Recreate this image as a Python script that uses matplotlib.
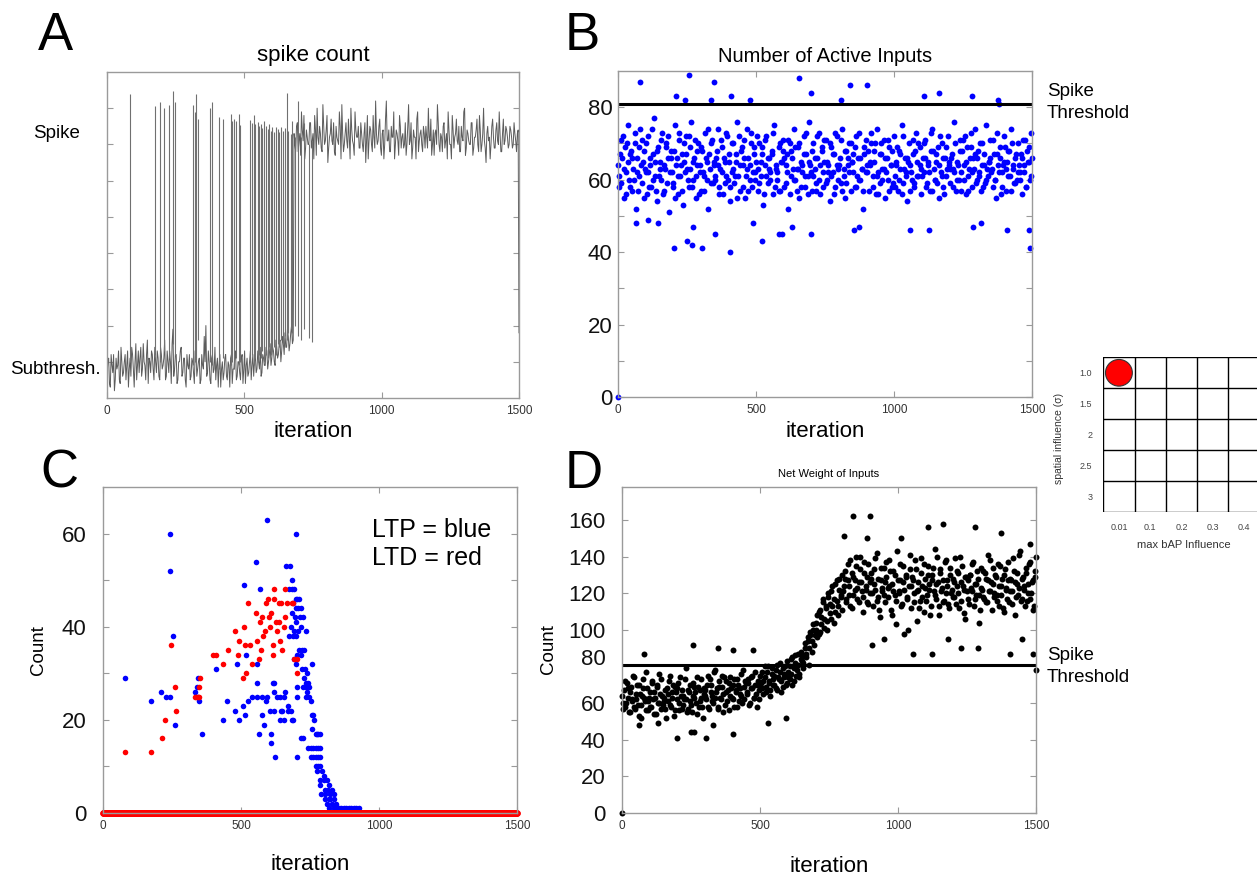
import matplotlib
matplotlib.use('Agg')
import matplotlib.pyplot as plt
import matplotlib.transforms as mtransforms
import numpy as np
from matplotlib.patches import Circle

plt.rcParams['font.family'] = ['Liberation Sans', 'DejaVu Sans']

# ---------------- DATA ----------------
# Panel A: spike count trace, two interleaved samplings (every 6 iterations, offset by 3)
a_vals = [0.6,1.1,0.3,0.9,1.2,0.5,0.8,1.3,0.4,1.0,
          0.7,1.2,0.9,0.3,1.1,1.4,0.8,1.0,0.5,1.3,
          1.1,0.6,1.5,0.9,1.2,0.4,1.0,1.3,0.8,1.4,
          0.7,1.1,0.5,1.2,0.9,1.6,0.6,1.0,1.3,0.4,
          1.9,0.8,1.2,0.5,1.0,1.4,0.7,1.1,0.3,0.9,
          1.2,0.6,1.0,0.4,1.3,0.8,1.1,0.5,0.9,1.7,
          2.0,0.7,1.0,0.4,1.2,0.8,0.5,1.1,0.9,0.3,
          1.0,0.7,1.2,0.5,0.9,1.1,0.4,0.8,1.3,0.6,
          1.0,0.5,1.2,0.8,0.4,1.1,0.7,1.3,0.9,0.6,
          1.2,0.8,1.0,1.4,0.7,1.1,0.9,1.3,1.0,1.5,
          1.1,1.3,0.9,1.4,1.2,1.6,1.3,1.5,1.8,1.4,
          1.7,1.5,2.0,1.6,
          7.0,7.5,6.8,7.3,7.9,7.1,6.6,7.4,7.0,7.6,
          6.9,7.3,7.8,6.7,7.2,7.5,6.9,8.1,7.0,7.4,
          6.5,7.2,7.7,7.0,6.8,7.5,7.1,7.9,6.6,7.3,
          7.0,7.6,6.9,7.2,8.0,7.1,6.7,7.4,7.2,6.9,
          7.6,7.0,7.3,6.5,7.8,7.1,7.4,6.8,7.2,8.2,
          7.0,7.5,6.9,7.3,6.6,7.7,7.1,7.4,6.8,7.2,
          7.9,7.0,7.3,6.7,7.5,7.2,6.9,7.6,7.0,8.1,
          7.1,6.6,7.4,7.2,7.7,6.8,7.3,7.0,7.5,6.9,
          7.2,8.0,7.1,6.7,7.4,7.3,7.0,7.6,6.8,7.2,
          7.5,6.9,7.3,7.9,7.0,6.6,7.4,7.2,7.7,7.0,
          6.8,7.5,7.1,8.0,6.9,7.3,7.0,7.6,6.7,7.2,
          7.4,7.0,7.8,6.8,7.3,7.1,6.5,7.5,7.2,7.0,
          7.7,6.9,7.4,7.1,7.9,6.8,7.3,7.0,7.5,7.2,
          7.0,7.4,6.9,7.6,7.1,7.3,1.8]
a_vals2 = [1.0,0.4,1.2,0.7,0.2,1.1,0.9,0.5,1.4,0.6,
           1.0,0.5,1.3,0.8,0.6,1.2,0.3,1.5,0.9,0.7,
           1.4,0.8,1.0,0.5,1.6,1.1,0.7,1.2,0.5,1.0,
           1.3,0.6,1.4,0.8,1.1,0.5,1.3,0.7,1.0,1.5,
           0.6,1.2,0.4,1.0,1.3,0.6,1.1,0.5,1.2,0.8,
           0.5,1.1,0.7,1.3,0.6,1.0,0.4,1.2,0.8,1.0,
           0.6,1.3,0.5,1.1,0.7,1.4,0.9,0.3,1.2,0.8,
           0.5,1.1,0.6,1.0,0.3,1.2,0.8,1.1,0.5,1.0,
           0.7,1.1,0.4,1.3,0.9,0.6,1.0,0.5,1.2,1.0,
           0.7,1.3,0.8,0.6,1.2,0.9,1.4,0.8,1.2,0.9,
           1.4,1.0,1.6,1.1,1.5,1.0,1.7,1.2,1.4,1.9,
           1.3,1.8,1.5,
           7.3,6.8,7.6,7.1,6.7,7.4,7.8,6.9,7.2,7.0,
           7.6,7.1,6.6,7.4,8.0,7.0,7.3,6.8,7.5,7.1,
           7.8,6.9,7.3,7.1,7.6,6.7,7.2,7.0,7.5,8.1,
           6.8,7.3,7.1,7.7,6.6,7.4,7.0,7.9,7.2,7.5,
           6.9,7.3,6.8,7.6,7.1,6.6,7.5,7.0,7.8,6.9,
           7.3,7.1,7.7,6.7,7.4,7.0,8.2,7.1,6.8,7.5,
           7.2,6.6,7.4,7.1,7.8,6.9,7.3,7.0,6.7,7.5,
           7.0,7.6,6.9,7.2,6.6,7.9,7.1,7.4,6.8,7.3,
           7.5,6.9,7.2,7.7,7.0,6.7,7.4,8.1,7.0,7.3,
           6.8,7.6,7.1,6.6,7.4,7.0,7.8,6.9,7.3,7.1,
           7.5,6.8,7.2,7.9,6.7,7.4,7.1,7.0,7.6,6.9,
           7.2,7.7,6.8,7.4,7.0,8.0,6.9,7.3,7.1,6.6,
           7.5,7.2,6.9,7.6,7.0,7.3,6.8,7.7,7.1,7.4,
           6.9,7.5,7.2,7.0,7.3,6.8,7.4]
spike_iter = [83,173,192,209,224,240,246,313,319,325,333,375,382,408,422,450,456,462,
              470,480,486,522,528,534,540,549,554,561,566,572,579,585,590,597,602,608,
              614,621,627,633,640,648,654,660,670,674,684,696,708,716]
spike_top = [8.4,8.05,8.16,8.0,8.1,8.47,8.16,8.1,7.9,8.4,7.7,8.0,8.16,7.75,7.7,7.85,7.65,
             7.7,7.65,7.85,7.55,7.67,7.58,7.8,7.56,7.61,7.52,7.56,7.45,7.66,7.52,7.43,7.56,
             7.36,7.47,7.33,7.47,7.43,7.33,7.47,7.36,7.45,8.41,7.36,7.29,7.66,7.2,8.2,7.2,7.6]
spike_base = [1.0,1.2,1.0,1.3,1.1,1.5,1.2,0.9,1.0,0.8,1.6,1.0,0.9,0.8,1.1,0.9,1.0,0.8,
              1.1,0.9,1.0,1.0,1.2,0.9,1.1,1.0,1.2,1.1,1.3,1.0,1.2,1.1,1.4,1.2,1.3,1.4,
              1.2,1.5,1.4,1.6,1.5,1.7,1.6,1.8,1.9,1.8,2.0,1.7,1.6,1.9]
drop_iter = [736, 746]
drop_bottom = [1.65, 1.55]
drop_top = [7.0, 7.1]
a_level_labels = ['Spike', 'Subthresh.']
a_level_pos = [7.3, 0.8]

# Panel B: number of active inputs, two interleaved samplings, plus outliers
b_vals = [64,58,71,66,55,69,62,75,60,67, 57,63,70,52,66,61,74,59,65,68,
          62,56,72,64,58,67,77,61,54,69, 65,60,73,57,63,70,66,51,68,62,
          59,75,64,56,71,61,67,53,65,72, 63,58,69,76,60,66,55,64,70,62,
          57,68,61,73,65,52,67,59,71,64, 60,66,74,58,63,69,56,65,61,72,
          67,54,62,70,59,65,76,61,57,68, 64,71,55,63,66,60,73,58,69,62,
          65,57,70,61,67,53,64,72,59,66, 62,68,56,75,63,60,69,57,65,71,
          58,64,67,52,70,61,66,74,60,63, 69,55,65,62,72,58,67,61,76,64,
          57,70,63,59,66,73,56,68,62,65, 71,60,64,54,69,62,67,58,72,63,
          66,59,74,61,55,68,64,70,57,65, 62,69,58,66,73,60,63,52,67,71,
          64,57,65,70,61,68,56,74,62,59, 67,63,71,55,66,60,69,64,58,72,
          61,65,57,68,63,75,59,66,62,54, 70,64,60,67,58,73,65,61,69,56,
          66,62,71,59,64,57,68,74,63,60, 65,69,55,62,70,58,66,61,72,64,
          59,67,63,76,57,65,60,68,62,71, 64,56,69,61,66,73,58,63,67,60,
          68,62,57,70,64,59,75,61,65,66, 63,71,60,55,67,62,69,58,64,72,
          57,65,68,61,74,63,59,66,60,70, 62,67,56,64,71,58,65,69,61,66]
b_vals2 = [61,67,59,72,63,56,70,65,58,68, 66,60,73,62,57,69,64,71,55,63,
           70,62,58,66,74,60,65,57,68,61, 63,71,56,64,69,59,72,62,66,58,
           68,55,66,61,73,64,57,70,62,67, 60,72,63,58,65,71,61,68,56,64,
           69,62,57,66,60,74,63,70,59,65, 61,68,64,56,71,62,66,59,73,60,
           65,58,70,63,61,67,55,72,64,69, 58,66,61,74,57,64,70,62,67,60,
           72,63,59,65,69,56,71,61,66,63, 60,67,73,58,64,62,57,70,65,68,
           66,59,62,71,56,68,63,60,69,57, 63,70,58,64,67,61,73,56,65,62,
           68,61,66,57,72,60,64,69,58,71, 59,65,62,70,61,67,56,73,64,60,
           64,71,57,63,68,59,66,62,70,65, 67,58,72,61,60,66,63,57,69,62,
           62,68,64,73,58,65,70,61,56,67, 70,60,63,66,62,71,57,64,68,59,
           58,64,69,60,67,56,72,63,61,66, 65,57,62,71,59,68,61,70,64,63,
           61,70,66,58,65,62,73,57,68,60, 67,59,64,72,61,66,56,69,63,65,
           63,66,58,62,70,60,64,71,57,68, 60,72,65,57,63,69,62,66,74,59,
           66,61,70,64,58,67,60,63,65,71, 62,58,67,60,73,64,66,56,62,65,
           69,63,61,68,57,70,64,59,67,62, 64,60,66,71,62,58,68,65,60,73]
b_out_iter = [0,81,211,256,244,337,347,408,477,654,700,809,840,902,1109,1162,1283,1375,1381,
              202,251,268,306,405,353,522,583,594,700,629,490,854,873,1057,1127,1410,1490,
              1492,1288,1317,66,109,145,272]
b_out_vals = [0,87,83,89,82,82,87,83,82,88,84,82,86,86,83,84,83,82,81,
              41,43,42,41,40,45,43,45,45,45,47,48,46,47,46,46,46,46,
              41,47,48,48,49,48,47]
threshold_b = 81

# Panel C: LTP (blue) and LTD (red) counts
ltp_iter = [81,173,211,228,243,241,241,255,262,334,340,344,349,357,343,
            409,433,450,484,478,493,508,513,510,519,527,540,559,575,590,593,556,568,559,559,
            565,576,583,608,610,623,596,621,621,640,643,
            662,677,683,673,683,692,655,671,681,690,698,704,
            604,620,645,650,656,672,684,615,631,661,
            698,704,710,688,698,708,716,686,696,713,723,
            698,680,692,708,716,674,688,700,734,
            710,720,728,716,698,692,704,756,
            722,731,740,728,734,744,725,737,746,740,734,746,752,
            704,704,716,725,
            758,762,766,758,770,776,780,788,
            744,752,761,770,780,788,
            752,761,770,780,788,
            770,780,788,776,794,800,
            785,800,812,818,788,806,
            790,806,824,836,815,830,
            806,824,836,812,830,845,820,
            818,836,854,872,890,908,927,845,862,880,898,917]
ltp_vals = [29,24,26,25,25,60,52,38,19,26,27,25,24,17,29,
            31,20,24,32,22,20,23,21,49,34,24,25,25,25,24,25,54,48,32,28,
            17,21,19,17,15,12,63,28,26,25,20,
            53,53,50,48,48,48,25,23,22,20,60,12,
            22,22,22,22,20,22,20,28,25,26,
            46,46,46,45,44,44,44,43,42,42,42,
            41,40,39,39,40,38,38,38,39,
            35,35,35,34,32,33,34,32,
            31,31,30,29,28,28,27,27,27,26,25,25,24,
            27,25,16,16,
            21,21,20,18,17,17,17,17,
            14,14,14,14,14,14,
            12,12,12,12,12,
            10,10,10,9,9,8,
            7,7,7,6,6,5,
            4,4,4,4,5,5,
            3,3,3,2,2,2,3,
            1,1,1,1,1,1,1,1,1,1,1,1]
ltd_iter = [81,173,212,226,246,261,266,332,337,347,343,353,349,
            399,411,434,453,478,488,493,506,512,515,534,517,525,540,
            556,559,565,568,574,577,581,586,590,599,602,606,610,615,615,
            618,621,627,636,631,637,646,640,649,655,658,661,667,683,690,692,702,704]
ltd_vals = [13,13,16,20,36,27,22,25,25,27,25,29,25,
            34,34,32,35,39,34,37,29,40,36,36,30,45,32,
            43,37,33,41,35,42,38,39,45,46,42,40,43,36,34,
            48,46,41,41,39,45,45,37,35,40,42,48,45,45,45,33,30,33]
ltd_zero_iter = list(range(0, 1501))      # LTD count of 0 at every iteration
ltd_zero_vals = [0] * len(ltd_zero_iter)

# Panel D: net weight of inputs, two interleaved samplings, plus outliers
d_vals = [64,57,72,60,68,55,66,61,75,58, 62,70,53,65,59,73,63,56,68,61,
          66,58,71,54,63,69,60,76,57,64, 61,67,52,65,72,59,63,70,56,66,
          68,60,74,57,64,62,79,55,67,61, 59,71,63,66,54,69,61,73,58,65,
          67,62,75,57,70,64,60,78,66,58, 72,63,69,55,74,66,61,71,64,68,
          62,73,67,58,70,65,76,60,69,72, 66,71,59,74,68,63,77,65,70,62,
          75,68,72,80,66,77,71,64,79,73, 70,78,67,74,82,72,69,76,80,71,
          77,73,84,70,79,86,75,81,74,88, 83,79,90,85,94,81,97,88,100,92,
          104,96,110,99,107,115,101,112,105,118, 109,121,113,104,125,116,108,128,119,111,
          124,132,115,127,119,138,112,129,122,135, 117,126,140,121,110,131,124,115,136,120,
          128,113,133,122,142,118,107,127,121,134, 115,129,123,138,111,125,132,119,103,127,
          121,136,114,126,98,130,118,124,141,112, 127,120,133,105,122,116,139,124,110,128,
          119,135,125,113,130,121,144,117,126,108, 131,123,115,137,120,127,112,134,122,118,
          126,114,132,120,140,116,124,109,129,121, 117,130,123,136,113,125,119,128,104,134,
          122,118,131,115,127,121,138,111,125,120, 129,116,124,135,119,112,130,123,117,137,
          121,127,114,132,108,125,119,141,116,128, 124,113,131,120,136,117,126,111,129,140]
d_vals2 = [60,67,58,71,63,55,69,62,74,57, 65,59,70,52,64,68,61,77,56,63,
           58,72,62,66,54,70,60,65,73,59, 63,57,68,61,75,58,66,53,69,62,
           71,56,64,67,59,73,62,57,66,70, 55,64,69,60,74,58,67,63,52,68,
           64,70,58,73,66,61,77,63,68,57, 69,62,75,65,59,72,67,56,74,63,
           70,58,66,73,61,68,64,78,62,71, 65,73,60,68,75,63,70,58,72,67,
           71,77,65,74,69,80,72,67,76,70, 75,68,81,73,77,66,79,74,70,83,
           74,80,76,85,72,82,78,87,76,84, 86,82,93,87,96,90,99,94,103,97,
           100,108,98,111,103,117,106,113,100,120, 114,106,124,117,110,127,113,122,118,130,
           121,128,117,136,124,113,131,119,127,140, 123,115,133,126,118,137,122,129,114,126,
           131,120,125,139,116,128,111,134,123,119, 126,137,118,124,132,108,121,130,116,143,
           120,127,113,135,122,129,117,100,133,124, 129,115,138,121,126,112,131,118,136,123,
           116,130,122,108,127,134,119,125,140,113, 133,121,127,116,138,124,114,130,120,128,
           118,139,124,131,112,126,135,122,106,129, 127,114,130,121,137,117,125,132,119,111,
           123,132,117,128,115,141,121,126,134,118, 130,119,136,113,124,128,110,133,122,127,
           115,128,121,139,126,118,131,123,143,117, 129,122,134,116,125,137,120,127,113,132]
d_out_iter = [0,838,899,886,805,81,256,347,403,476,200,250,262,304,403,1162,1279,1373,1107,
              1011,1477,1500,1490,1056,1122,1407,904,950,1180,1230,1290,1450,60,130,330,530,595]
d_out_vals = [0,162,162,150,151,87,92,90,89,89,41,44,44,41,43,158,156,153,156,
              150,147,78,87,87,87,87,92,95,95,90,90,95,48,49,48,49,52]
threshold_d = 81

# Inset: parameter grid
bap_levels = ['0.01', '0.1', '0.2', '0.3', '0.4']
sigma_levels = ['1.0', '1.5', '2', '2.5', '3']
hit_col = [0]
hit_row = [0]

# ---------------- FIGURE ----------------
W, H = 1257, 875
fig = plt.figure(figsize=(W / 100, H / 100), dpi=100)


def box(l, t, r, b):
    return [l / W, 1 - b / H, (r - l) / W, (b - t) / H]


def ftext(x, y, s, **kw):
    fig.text(x / W, 1 - y / H, s, **kw)


def interleave(v1, v2, start2, stop2):
    x = np.concatenate([np.linspace(0, 1500, len(v1)), np.linspace(start2, stop2, len(v2))])
    y = np.concatenate([np.asarray(v1, float), np.asarray(v2, float)])
    o = np.argsort(x, kind='stable')
    return x[o], y[o]


SPINE = '#9a9a9a'


def style(ax, ylab_size=16, ypad=4):
    for s in ax.spines.values():
        s.set_color(SPINE)
        s.set_linewidth(1.0)
    ax.tick_params(which='both', direction='in', top=True, right=True,
                   color=SPINE, length=4, width=0.8)
    ax.tick_params(axis='x', labelsize=8.5, labelcolor='#333333', pad=5)
    ax.tick_params(axis='y', labelsize=ylab_size, labelcolor='#111111', pad=ypad)
    ax.set_xlim(0, 1500)
    ax.set_xticks([0, 500, 1000, 1500])


TRACE = '#5c5c5c'

# Panel A
axA = fig.add_axes(box(107, 72, 519, 398))
style(axA)
ax_x, ax_y = interleave(a_vals, a_vals2, 3, 1497)
axA.plot(ax_x, ax_y, color=TRACE, lw=0.7)
axA.vlines(spike_iter, spike_base, spike_top, color='#707070', lw=0.8)
axA.vlines(drop_iter, drop_bottom, drop_top, color='#707070', lw=0.8)
axA.set_ylim(0, 9)
axA.set_yticks(range(1, 9))
axA.set_yticklabels([])
for lab, pos, xr in zip(a_level_labels, a_level_pos, [80, 101]):
    yp = 398 - pos / 9 * 326
    ftext(xr, yp, lab, ha='right', va='center', fontsize=13.5)
ftext(313, 61, 'spike count', ha='center', va='baseline', fontsize=16)
ftext(313, 437, 'iteration', ha='center', va='baseline', fontsize=16)
ftext(38, 50, 'A', ha='left', va='baseline', fontsize=38)

# Panel B
axB = fig.add_axes(box(618, 71, 1032, 397))
style(axB, ypad=4)
bx, by = interleave(b_vals, b_vals2, 2.5, 1497.5)
axB.plot(bx, by, 'o', color='#0000ff', ms=4.2, mew=0, clip_on=False)
axB.plot(b_out_iter, b_out_vals, 'o', color='#0000ff', ms=4.2, mew=0, clip_on=False)
axB.axhline(threshold_b, color='black', lw=2.2)
axB.set_ylim(0, 90)
axB.set_yticks([0, 20, 40, 60, 80])
axB.set_yticks([10, 30, 50, 70], minor=True)
ftext(825, 62, 'Number of Active Inputs', ha='center', va='baseline', fontsize=14.5)
ftext(825, 437, 'iteration', ha='center', va='baseline', fontsize=16)
ftext(1047, 91, 'Spike', ha='left', va='center', fontsize=13.5)
ftext(1047, 114, 'Threshold', ha='left', va='center', fontsize=13.5)
ftext(565, 50, 'B', ha='left', va='baseline', fontsize=38)

# Panel C
axC = fig.add_axes(box(103, 487, 517, 813))
style(axC, ypad=12)
axC.plot(ltp_iter, ltp_vals, 'o', color='#0000ff', ms=4.0, mew=0, clip_on=False)
axC.plot(ltd_iter, ltd_vals, 'o', color='#ff0000', ms=4.0, mew=0, clip_on=False)
axC.plot(ltd_zero_iter, ltd_zero_vals, 'o', color='#ff0000', ms=4.6, mew=0, clip_on=False)
axC.set_ylim(0, 70)
axC.set_yticks([0, 20, 40, 60])
axC.set_yticks([10, 30, 50], minor=True)
axC.text(0.65, 0.825, 'LTP = blue\nLTD = red', transform=axC.transAxes,
         ha='left', va='center', fontsize=18, linespacing=1.2)
ftext(310, 870, 'iteration', ha='center', va='baseline', fontsize=16)
ftext(38, 650, 'Count', ha='center', va='center', rotation=90, fontsize=13.5)
ftext(40, 488, 'C', ha='left', va='baseline', fontsize=38)

# Panel D
axD = fig.add_axes(box(622, 487, 1036, 813))
style(axD, ypad=12)
dx, dy = interleave(d_vals, d_vals2, 2.5, 1497.5)
axD.plot(dx, dy, 'o', color='black', ms=4.3, mew=0, clip_on=False)
axD.plot(d_out_iter, d_out_vals, 'o', color='black', ms=4.3, mew=0, clip_on=False)
axD.axhline(threshold_d, color='black', lw=2.2)
axD.set_ylim(0, 178)
axD.set_yticks(range(0, 161, 20))
# in the original the "80" label sits a little above its tick (clear of the threshold line)
fig.canvas.draw()
for lab in axD.get_yticklabels():
    if lab.get_text() == '80':
        lab.set_transform(lab.get_transform() +
                          mtransforms.ScaledTranslation(0, 7 / 72, fig.dpi_scale_trans))
ftext(829, 477, 'Net Weight of Inputs', ha='center', va='baseline', fontsize=8)
ftext(829, 872, 'iteration', ha='center', va='baseline', fontsize=16)
ftext(548, 649, 'Count', ha='center', va='center', rotation=90, fontsize=13.5)
ftext(1047, 655, 'Spike', ha='left', va='center', fontsize=13.5)
ftext(1047, 678, 'Threshold', ha='left', va='center', fontsize=13.5)
ftext(565, 488, 'D', ha='left', va='baseline', fontsize=38)

# Inset grid
axI = fig.add_axes(box(1103.3, 357.3, 1259.5, 512.3))
axI.set_xlim(0, len(bap_levels))
axI.set_ylim(len(sigma_levels), 0)
for v in range(len(bap_levels) + 1):
    axI.axvline(v, color='black', lw=1.0)
for v in range(len(sigma_levels) + 1):
    axI.axhline(v, color='black', lw=1.0)
for s in axI.spines.values():
    s.set_visible(False)
axI.set_xticks(np.arange(len(bap_levels)) + 0.5)
axI.set_xticklabels(bap_levels)
axI.set_yticks(np.arange(len(sigma_levels)) + 0.5)
axI.set_yticklabels(sigma_levels)
axI.tick_params(length=0, labelsize=6.5, labelcolor='#444444', pad=8)
for c, r in zip(hit_col, hit_row):
    axI.add_patch(Circle((c + 0.5, r + 0.5), 0.43, facecolor='#ff0000',
                         edgecolor='#333333', lw=0.8, zorder=3))
ftext(1184, 545, 'max bAP Influence', ha='center', va='center', fontsize=8, color='#333333')
ftext(1059, 438, 'spatial influence (\u03c3)', ha='center', va='center', rotation=90,
      fontsize=7.5, color='#333333')

fig.savefig('out.png', dpi=100)
